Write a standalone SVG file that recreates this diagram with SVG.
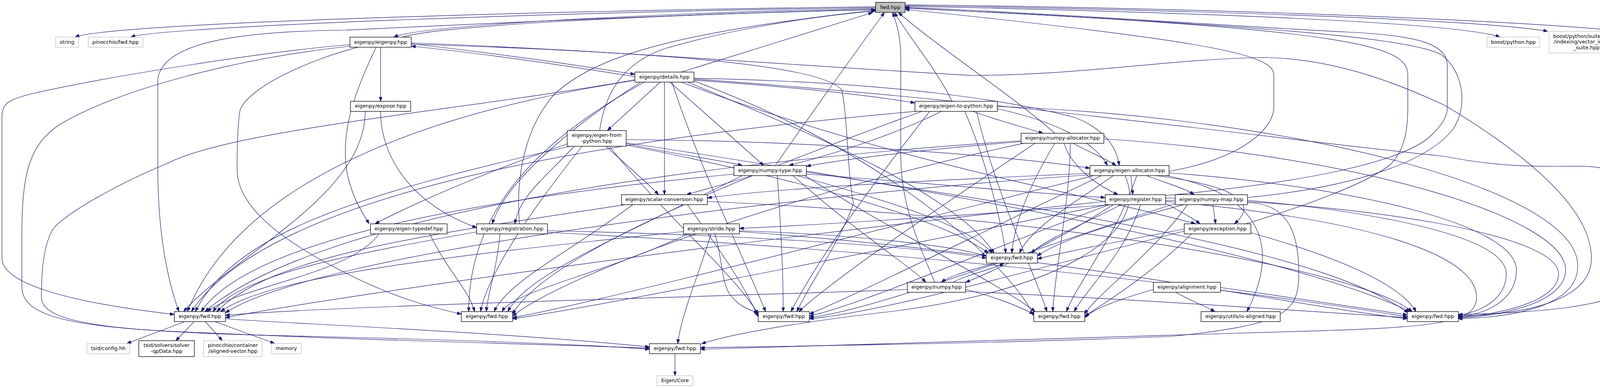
<svg xmlns="http://www.w3.org/2000/svg" width="4439" height="992" viewBox="0 0 4439 992">
<style>
.bg{fill:#fff}
.n rect{fill:#fff;stroke:#000;stroke-width:1.3}
.x rect{fill:#fff;stroke:#bfbfbf;stroke-width:1.3}
.t rect{fill:#bfbfbf;stroke:#000;stroke-width:1.3}
text{font-family:"DejaVu Sans","Liberation Sans",sans-serif;font-size:13px;fill:#000;text-anchor:middle}
.e path{fill:none;stroke:#191970;stroke-width:1.2;marker-end:url(#a)}
</style>
<defs>
<marker id="a" markerUnits="userSpaceOnUse" markerWidth="11" markerHeight="8" refX="11" refY="4" orient="auto"><path d="M0,0L11,4L0,8z" fill="#191970" stroke="#191970" stroke-width="1"/></marker>
</defs>
<rect class="bg" x="0" y="0" width="4439" height="992"/>
<g id="edges" class="e">
<path d="M2241.5,17 C1400,28 300,58 192,94.5"/>
<path d="M2241.5,19 C1400,32 420,68 335,94.5"/>
<path d="M2241.5,21 C1600,36 1080,66 1008,94.5"/>
<path d="M1030,95 C1120,66 1650,38 2241,25"/>
<path d="M2317,16 C3000,30 3720,55 3840,94.5"/>
<path d="M2317,14 C3000,25 3780,48 3962,80"/>
<path d="M2317,12 C3200,22 4120,60 4255,94.5"/>
<path d="M2241.5,23 C1500,45 960,74 884,77 C600,80 420,110 404,200 L404,430 C404,600 430,720 458,796.5"/>
<path d="M1745,184 C1900,135 2100,75 2234,32"/>
<path d="M1535,333.5 C1550,230 1600,160 1700,125 C1850,80 2050,45 2241,28"/>
<path d="M1330,572 C1320,460 1340,330 1420,240 C1520,150 1700,85 2241,26"/>
<path d="M1985,423 C2070,300 2200,120 2264,32"/>
<path d="M2437,259 C2400,180 2330,100 2290,32"/>
<path d="M2700,340.5 C2600,250 2400,120 2300,32"/>
<path d="M2393,721.5 C2350,620 2306,520 2306,400 L2306,150 C2306,90 2295,60 2285,32"/>
<path d="M2993,438 C3180,405 3261,330 3261,273 L3261,193 C3261,145 3160,110 2317,24"/>
<path d="M3190,572 C3330,530 3500,470 3560,420 C3600,380 3604,320 3604,273 L3604,193 C3604,120 3500,75 2317,21"/>
<path d="M2984,500 C3300,470 3600,420 3670,340 C3700,310 3705,290 3705,277 L3705,167 C3705,110 3620,90 3450,82 C3200,70 2800,40 2317,18"/>
<path d="M3194,505 C3450,480 3650,420 3720,330 C3760,270 3745,180 3690,140 C3600,90 3100,60 2317,20"/>
<path d="M1053,112 C1300,140 1500,170 1625,190"/>
<path d="M1625,196 C1450,168 1250,138 1053,118"/>
<path d="M974.4,120.7 L974.4,259"/>
<path d="M963,120.7 C900,250 870,350 890,450 C905,510 925,540 945,572"/>
<path d="M896,114 C700,130 300,190 80,240 C20,255 5,265 5,300 L5,660 C5,720 150,770 446,804"/>
<path d="M896,118 C600,150 300,230 150,320 C80,370 56,430 56,600 L56,733 C56,800 150,830 400,845 C900,870 1400,880 1662.6,890"/>
<path d="M917,120.7 C800,150 640,220 615,280 C607,320 607,400 607,433 C607,520 700,600 850,680 C1000,760 1100,785 1181,803"/>
<path d="M1053,110 C1500,125 2150,175 2490,193 C2800,190 3000,150 3240,147 C3400,150 3550,200 3700,270 C3950,420 4074,550 4074,660 C4074,770 3900,805 3733.3,808"/>
<path d="M1053,113 C1600,130 2100,160 2155,230 C2170,300 2170,450 2185,520 C2150,620 2070,730 2040,796.5"/>
<path d="M974,284.7 C975,400 1050,520 1220,582"/>
<path d="M935,284.7 C935,500 600,650 470,796.5"/>
<path d="M1690,210 L1555,333.5"/>
<path d="M1776.5,205 C2000,220 2200,240 2342,263"/>
<path d="M1715,210 L1955,423"/>
<path d="M1776.5,200 C2300,210 2600,260 2750,300 C2830,330 2860,380 2865,423"/>
<path d="M1701,210 L1701,497.5"/>
<path d="M1744,210 C2300,420 2800,500 3060,572"/>
<path d="M1640,210 C1500,300 1300,450 1260,572"/>
<path d="M1630,205 C1000,300 600,500 480,796.5"/>
<path d="M1650,210 C1300,400 1200,600 1200,796.5"/>
<path d="M1720,210 C1800,450 1900,650 1960,796.5"/>
<path d="M1760,210 C2100,350 2450,500 2545,647"/>
<path d="M1776.5,207 C2300,400 2600,700 2646.5,808"/>
<path d="M1776.5,202 C2600,260 3300,360 3700,400 C3850,430 3950,425 4055,425 C4200,430 4290,530 4290,607 C4290,700 4200,760 4008,787 C3900,800 3800,803 3733.3,804"/>
<path d="M1625,204 C1200,280 600,330 430,417 C300,470 180,540 140,580 C110,620 106,700 106,760 C106,830 300,850 800,860 C1200,870 1500,880 1662.6,893"/>
<path d="M1603,367 C1700,390 1850,410 1900,423"/>
<path d="M1603,357 C2100,360 2600,400 2790,430"/>
<path d="M1552,374 C1600,420 1650,460 1686,497.5"/>
<path d="M1470,374 C1400,450 1330,500 1318,572"/>
<path d="M1452,368 C1300,420 1100,500 960,572"/>
<path d="M1460,374 C900,500 600,600 500,796.5"/>
<path d="M1490,374 C1350,550 1250,700 1230,796.5"/>
<path d="M1560,374 C1700,550 1880,700 1941,803"/>
<path d="M1600,370 C2000,450 2400,550 2530,647"/>
<path d="M1603,365 C2500,500 3300,650 3610,796.5"/>
<path d="M2490,284.7 C2560,310 2620,325 2670,340.5"/>
<path d="M2410,284.7 C2300,340 2150,390 2020,423"/>
<path d="M2553,278 C2700,310 2800,360 2835,423"/>
<path d="M2345,284.7 C1600,350 700,480 490,796.5"/>
<path d="M2360,284.7 C1900,450 1400,650 1312,803"/>
<path d="M2380,284.7 C2250,450 2100,650 2025,796.5"/>
<path d="M2470,284.7 C2520,400 2560,550 2575,647"/>
<path d="M2500,284.7 C2550,500 2650,700 2680,796.5"/>
<path d="M2553,272 C3300,300 4039,480 4039,680 C4039,790 3850,812 3733.3,815"/>
<path d="M2614,362 C2400,380 2200,400 2064.5,425"/>
<path d="M2747,366.3 C2790,390 2830,405 2857,423"/>
<path d="M2724,366.3 C2740,420 2800,470 2862,497.5"/>
<path d="M2615,360 C1700,420 800,560 525,796.5"/>
<path d="M2620,366.3 C2000,500 1450,700 1312,808"/>
<path d="M2650,366.3 C2450,500 2150,700 2045,796.5"/>
<path d="M2700,366.3 C2650,450 2600,550 2590,647"/>
<path d="M2740,366.3 C2740,500 2700,700 2695,796.5"/>
<path d="M2826,355 C3500,400 4008,560 4008,690 C4008,780 3820,810 3733.3,813"/>
<path d="M1925,449 C1860,470 1800,485 1758,497.5"/>
<path d="M2064.5,445 C2400,470 2650,495 2829,505"/>
<path d="M2030,449 C2200,600 2330,680 2370,721.5"/>
<path d="M1880,445 C1300,500 650,600 515,796.5"/>
<path d="M1900,449 C1600,600 1350,700 1300,796.5"/>
<path d="M1990,449 C2000,600 2005,700 2005,796.5"/>
<path d="M2040,449 C2300,520 2480,580 2540,647"/>
<path d="M2060,449 C2300,600 2550,720 2650,796.5"/>
<path d="M2064.5,440 C2800,550 3400,650 3605,800"/>
<path d="M2895,449 L2900,497.5"/>
<path d="M2935,449 C2990,470 3030,480 3057,497.5"/>
<path d="M2790.4,443 C2400,460 2000,480 1811,506"/>
<path d="M2985,449 C3250,500 3270,650 3192,796.5"/>
<path d="M2960,449 C3200,480 3210,530 3160,572"/>
<path d="M2790.4,447 C2000,500 800,650 577,800"/>
<path d="M2800,449 C2200,600 1500,780 1312,812"/>
<path d="M2820,449 C2500,600 2200,750 2072,803"/>
<path d="M2850,449 C2750,520 2640,580 2610,647"/>
<path d="M2910,449 C2860,600 2760,720 2730,796.5"/>
<path d="M2993,442 C3500,480 3882,580 3882,690 C3882,770 3800,805 3733.3,809"/>
<path d="M2880,449 C2950,600 2700,750 2250,800 C2000,830 1850,860 1796,879"/>
<path d="M1600,523.3 C1100,600 700,650 555,796.5"/>
<path d="M1620,523.3 C1450,650 1300,720 1265,796.5"/>
<path d="M1760,523.3 C1850,650 1900,720 1941,810"/>
<path d="M1811,515 C2800,560 3500,700 3615,796.5"/>
<path d="M2984,520 C3020,540 3050,555 3072,572"/>
<path d="M2850,523.3 C2700,620 2550,690 2472,722"/>
<path d="M2829.5,515 C2000,600 900,750 577,812"/>
<path d="M2835,523.3 C2200,650 1500,790 1312,815"/>
<path d="M2840,523.3 C2500,650 2200,780 2072,808"/>
<path d="M2870,523.3 C2780,570 2680,610 2640,647"/>
<path d="M2920,523.3 C2880,650 2780,740 2750,796.5"/>
<path d="M2984,506 C3500,520 3990,600 3990,700 C3990,780 3800,808 3733.3,811"/>
<path d="M2984,515 C3500,560 3780,650 3780,760 C3780,820 3700,835 3400,845 C2800,860 2200,880 1793.2,893"/>
<path d="M3105,523.3 L3112,572"/>
<path d="M3008.6,512 C2600,540 2200,570 1892.7,584"/>
<path d="M3010,520 C2600,650 2250,790 2072,812"/>
<path d="M3030,523.3 C2850,570 2700,620 2655.6,655"/>
<path d="M3040,523.3 C2950,650 2800,760 2777,803"/>
<path d="M3194,512 C3500,540 3856,600 3856,700 C3856,770 3780,800 3733.3,806"/>
<path d="M3194,518 C3300,520 3325,600 3325,700 C3325,800 3290,830 3000,860 C2500,880 2000,885 1793.2,889"/>
<path d="M970,598 C900,700 620,730 530,796.5"/>
<path d="M1100,598 C1150,700 1200,740 1215,796.5"/>
<path d="M1225,592 C900,650 620,700 545,796.5"/>
<path d="M1280,598 C1270,700 1250,740 1245,796.5"/>
<path d="M1401.5,590 C1900,600 2350,630 2525,660"/>
<path d="M1401.5,594 C2500,650 3300,760 3602.7,810"/>
<path d="M1750,592 C1200,650 700,700 565,796.5"/>
<path d="M1760,598 C1550,700 1320,740 1285,796.5"/>
<path d="M1830,598 C1850,660 1845,720 1870,755 C1890,780 1910,790 1941,800"/>
<path d="M1892.7,590 C2200,600 2450,630 2525,655"/>
<path d="M1892.7,592 C2700,650 3300,780 3602.7,815"/>
<path d="M1820,598 C1790,700 1745,800 1735,878.5"/>
<path d="M3035,590 C2600,700 2250,800 2072,815"/>
<path d="M3035,585 C2850,620 2720,645 2655.6,662"/>
<path d="M3050,598 C2950,700 2820,780 2777,808"/>
<path d="M3202,595 C3400,650 3580,720 3625,796.5"/>
<path d="M2440,721.5 C2480,700 2540,690 2570,673"/>
<path d="M2545,672.7 C2495,690 2440,700 2410,721.5"/>
<path d="M2322.7,740 C1800,760 900,780 577,806"/>
<path d="M2472,740 C2550,760 2600,780 2646.5,803"/>
<path d="M2472,745 C3000,770 3400,800 3602.7,812"/>
<path d="M3010,747.3 C3050,770 3090,785 3110,796.5"/>
<path d="M2952.6,740 C2850,770 2800,790 2777,812"/>
<path d="M3124.4,735 C3300,760 3500,790 3602.7,805"/>
<path d="M473.5,822.3 L325,878"/>
<path d="M497,822.3 L450,871"/>
<path d="M526,822.3 L569,871"/>
<path d="M550,822.3 L703,878"/>
<path d="M577,815 C700,825 1300,850 1662.6,887"/>
<path d="M1728,904.3 L1728,960.5"/>
</g>
<g id="n_fwd" class="t"><rect x="2241.5" y="6" width="75.5" height="25.7"/><text x="2279.2" y="22.5">fwd.hpp</text></g>
<g id="n_string" class="x"><rect x="142.5" y="95" width="58.5" height="25.7"/><text x="171.7" y="111.5">string</text></g>
<g id="n_pinfwd" class="x"><rect x="225.8" y="95" width="140.2" height="25.7"/><text x="295.9" y="111.5">pinocchio/fwd.hpp</text></g>
<g id="n_eigenpy" class="n"><rect x="895.9" y="95" width="156.9" height="25.7"/><text x="974.4" y="111.5">eigenpy/eigenpy.hpp</text></g>
<g id="n_bpy" class="x"><rect x="3806.7" y="95" width="135" height="25.7"/><text x="3874.2" y="111.5">boost/python.hpp</text></g>
<g id="n_vis" class="x"><rect x="3965.9" y="80.3" width="192" height="55"/><text x="4037" y="96.8">boost/python/suite</text><text x="4061.5" y="111.2">/indexing/vector_indexing</text><text x="4061.5" y="125.8">_suite.hpp</text></g>
<g id="n_mc" class="x"><rect x="4181.6" y="95" width="256.4" height="25.7"/><text x="4309.8" y="111.5">boost/python/make_constructor.hpp</text></g>
<g id="n_details" class="n"><rect x="1625.3" y="184.3" width="151.2" height="25.7"/><text x="1700.9" y="200.7">eigenpy/details.hpp</text></g>
<g id="n_expose" class="n"><rect x="897.3" y="259" width="154" height="25.7"/><text x="974.3" y="275.4">eigenpy/expose.hpp</text></g>
<g id="n_e2p" class="n"><rect x="2342.3" y="259" width="210.9" height="25.7"/><text x="2447.8" y="275.4">eigenpy/eigen-to-python.hpp</text></g>
<g id="n_efp" class="n"><rect x="1452" y="333.7" width="151" height="40.3"/><text x="1527.5" y="350.2">eigenpy/eigen-from</text><text x="1527.5" y="365.2">-python.hpp</text></g>
<g id="n_nalloc" class="n"><rect x="2614" y="340.7" width="211.9" height="25.7"/><text x="2720" y="357.1">eigenpy/numpy-allocator.hpp</text></g>
<g id="n_ntype" class="n"><rect x="1878.8" y="423.3" width="185.6" height="25.7"/><text x="1971.6" y="439.7">eigenpy/numpy-type.hpp</text></g>
<g id="n_ealloc" class="n"><rect x="2790.4" y="423.3" width="202.4" height="25.7"/><text x="2891.6" y="439.7">eigenpy/eigen-allocator.hpp</text></g>
<g id="n_sconv" class="n"><rect x="1590.9" y="497.7" width="220" height="25.6"/><text x="1700.9" y="514.1">eigenpy/scalar-conversion.hpp</text></g>
<g id="n_reg" class="n"><rect x="2829.5" y="497.7" width="154.5" height="25.6"/><text x="2906.8" y="514.1">eigenpy/register.hpp</text></g>
<g id="n_nmap" class="n"><rect x="3008.6" y="497.7" width="185.1" height="25.6"/><text x="3101.2" y="514.1">eigenpy/numpy-map.hpp</text></g>
<g id="n_etd" class="n"><rect x="948.5" y="572.3" width="196.1" height="25.7"/><text x="1046.6" y="588.7">eigenpy/eigen-typedef.hpp</text></g>
<g id="n_regn" class="n"><rect x="1220.2" y="572.3" width="181.3" height="25.7"/><text x="1310.9" y="588.7">eigenpy/registration.hpp</text></g>
<g id="n_stride" class="n"><rect x="1749.7" y="572.3" width="143" height="25.7"/><text x="1821.2" y="588.7">eigenpy/stride.hpp</text></g>
<g id="n_exc" class="n"><rect x="3031.6" y="572.3" width="170.7" height="25.7"/><text x="3117" y="588.7">eigenpy/exception.hpp</text></g>
<g id="n_fwdE" class="n"><rect x="2525" y="647" width="130.6" height="25.7"/><text x="2590.3" y="663.4">eigenpy/fwd.hpp</text></g>
<g id="n_numpy" class="n"><rect x="2322.7" y="721.7" width="149.3" height="25.6"/><text x="2397.4" y="738.1">eigenpy/numpy.hpp</text></g>
<g id="n_align" class="n"><rect x="2952.6" y="721.7" width="171.8" height="25.6"/><text x="3038.5" y="738.1">eigenpy/alignment.hpp</text></g>
<g id="n_fwdA" class="n"><rect x="446.3" y="796.7" width="131" height="25.6"/><text x="511.8" y="813.1">eigenpy/fwd.hpp</text></g>
<g id="n_fwdB" class="n"><rect x="1181" y="796.7" width="131" height="25.6"/><text x="1246.5" y="813.1">eigenpy/fwd.hpp</text></g>
<g id="n_fwdC" class="n"><rect x="1941" y="796.7" width="131" height="25.6"/><text x="2006.5" y="813.1">eigenpy/fwd.hpp</text></g>
<g id="n_fwdF" class="n"><rect x="2646.5" y="796.7" width="130.5" height="25.6"/><text x="2711.8" y="813.1">eigenpy/fwd.hpp</text></g>
<g id="n_isal" class="n"><rect x="3074.6" y="796.7" width="202.8" height="25.6"/><text x="3176" y="813.1">eigenpy/utils/is-aligned.hpp</text></g>
<g id="n_fwdG" class="n"><rect x="3602.7" y="796.7" width="130.6" height="25.6"/><text x="3668" y="813.1">eigenpy/fwd.hpp</text></g>
<g id="n_cfg" class="x"><rect x="222.4" y="878.3" width="109.6" height="26"/><text x="277.2" y="894.9">tsid/config.hh</text></g>
<g id="n_qp" class="n"><rect x="355.4" y="871" width="142" height="40.7"/><text x="426.4" y="887.2">tsid/solvers/solver</text><text x="426.4" y="902.2">-qpData.hpp</text></g>
<g id="n_avec" class="x"><rect x="520.9" y="871" width="150.1" height="40.7"/><text x="596" y="887.2">pinocchio/container</text><text x="596" y="902.2">/aligned-vector.hpp</text></g>
<g id="n_mem" class="x"><rect x="694.5" y="878.3" width="77" height="26"/><text x="733" y="894.9">memory</text></g>
<g id="n_fwdD" class="n"><rect x="1662.6" y="878.7" width="130.6" height="25.6"/><text x="1727.9" y="895.1">eigenpy/fwd.hpp</text></g>
<g id="n_core" class="x"><rect x="1681.8" y="960.7" width="92.2" height="25.3"/><text x="1727.9" y="977">Eigen/Core</text></g>
</svg>
